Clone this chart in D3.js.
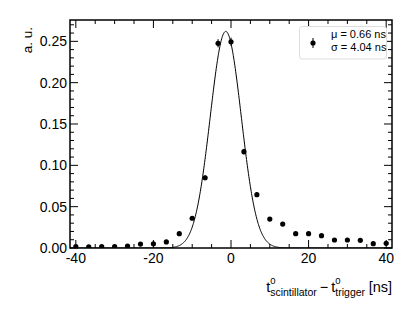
<!DOCTYPE html>
<html>
<head>
<meta charset="utf-8">
<script src="https://cdn.jsdelivr.net/npm/d3@7"></script>
<style>
  html, body { margin: 0; padding: 0; background: #fff; }
  svg { display: block; font-family: "Liberation Sans", Arial, Helvetica, sans-serif; }
</style>
</head>
<body>
<svg id="chart" width="415" height="312"></svg>
<script>
// ---- data ----
const binCenters = [-40, -36.67, -33.33, -30, -26.67, -23.33, -20, -16.67, -13.33, -10, -6.67, -3.33,
                    0, 3.33, 6.67, 10, 13.33, 16.67, 20, 23.33, 26.67, 30, 33.33, 36.67, 40];
const binValues = [0.0016, 0.0015, 0.0017, 0.0018, 0.0024, 0.0047, 0.0050, 0.0073, 0.0173, 0.0360,
                   0.0850, 0.2476, 0.2495, 0.1165, 0.0645, 0.0350, 0.0290, 0.0173, 0.0173, 0.0149,
                   0.0097, 0.0097, 0.0093, 0.0052, 0.0056];
const binErrors = [0.0005, 0.0005, 0.0005, 0.0005, 0.0006, 0.0008, 0.0008, 0.0010, 0.0014, 0.0020,
                   0.0030, 0.0050, 0.0050, 0.0035, 0.0025, 0.0018, 0.0016, 0.0013, 0.0013, 0.0012,
                   0.0010, 0.0010, 0.0010, 0.0007, 0.0008];
// Gaussian fit curve parameters (as drawn)
const fitAmplitude = 0.262;
const fitMean = -1.35;
const fitSigma = 4.0;
const xTickLabels = [-40, -20, 0, 20, 40];
const yTickLabels = [0.00, 0.05, 0.10, 0.15, 0.20, 0.25];
const legendLines = ["\u03bc = 0.66 ns", "\u03c3 = 4.04 ns"];

// ---- layout ----
const svg = d3.select("#chart");
const L = 70, R = 392, T = 20, B = 248;
const x = d3.scaleLinear().domain([-41.5, 41.5]).range([L, R]);
const y = d3.scaleLinear().domain([0, 0.2758]).range([B, T]);

svg.append("defs").append("clipPath").attr("id", "clip")
  .append("rect").attr("x", L).attr("y", T).attr("width", R - L).attr("height", B - T);

// ticks (inside, all four sides)
const xMinor = d3.range(-40, 40.01, 5);
const yMinor = d3.range(0, 0.2751, 0.01);
const tk = svg.append("g").attr("stroke", "#000").attr("stroke-width", 1);
xMinor.forEach(v => {
  const major = xTickLabels.some(m => Math.abs(m - v) < 1e-6);
  const len = major ? 8 : 4;
  tk.append("line").attr("x1", x(v)).attr("x2", x(v)).attr("y1", B).attr("y2", B - len);
  tk.append("line").attr("x1", x(v)).attr("x2", x(v)).attr("y1", T).attr("y2", T + len);
});
yMinor.forEach(v => {
  const major = yTickLabels.some(m => Math.abs(m - v) < 1e-6);
  const len = major ? 8 : 4;
  tk.append("line").attr("y1", y(v)).attr("y2", y(v)).attr("x1", L).attr("x2", L + len);
  tk.append("line").attr("y1", y(v)).attr("y2", y(v)).attr("x1", R).attr("x2", R - len);
});

// tick labels
svg.append("g").selectAll("text").data(xTickLabels).join("text")
  .attr("x", d => x(d)).attr("y", 263).attr("text-anchor", "middle")
  .attr("font-size", 14).text(d => d);
svg.append("g").selectAll("text").data(yTickLabels).join("text")
  .attr("x", 67).attr("y", d => y(d) + 5).attr("text-anchor", "end")
  .attr("font-size", 14).text(d => d3.format(".2f")(d));

// fit curve
const curveXs = d3.range(x.domain()[0], x.domain()[1] + 0.001, 0.1);
const line = d3.line().x(d => x(d)).y(d => y(fitAmplitude * Math.exp(-0.5 * ((d - fitMean) / fitSigma) ** 2)));
svg.append("path").datum(curveXs).attr("d", line).attr("fill", "none")
  .attr("stroke", "#000").attr("stroke-width", 1).attr("clip-path", "url(#clip)");

// data points
const pts = svg.append("g").attr("clip-path", "url(#clip)");
binCenters.forEach((c, i) => {
  pts.append("line").attr("x1", x(c)).attr("x2", x(c))
    .attr("y1", y(binValues[i] - binErrors[i])).attr("y2", y(binValues[i] + binErrors[i]))
    .attr("stroke", "#000").attr("stroke-width", 1);
  pts.append("circle").attr("cx", x(c)).attr("cy", y(binValues[i])).attr("r", 2.6).attr("fill", "#000");
});

// frame
svg.append("rect").attr("x", L).attr("y", T).attr("width", R - L).attr("height", B - T)
  .attr("fill", "none").attr("stroke", "#000").attr("stroke-width", 1.5);

// legend
const lg = svg.append("g");
lg.append("rect").attr("x", 299.5).attr("y", 26.5).attr("width", 87).attr("height", 32.5).attr("rx", 3)
  .attr("fill", "#fff").attr("stroke", "#ddd").attr("stroke-width", 1);
lg.append("line").attr("x1", 313).attr("x2", 313).attr("y1", 38).attr("y2", 48).attr("stroke", "#000").attr("stroke-width", 1);
lg.append("circle").attr("cx", 313).attr("cy", 43).attr("r", 2.6).attr("fill", "#000");
legendLines.forEach((t, i) => {
  lg.append("text").attr("x", 331).attr("y", 38 + i * 13).attr("font-size", 11).text(t);
});

// y axis title
svg.append("text").attr("transform", "translate(32,27) rotate(-90)")
  .attr("text-anchor", "end").attr("font-size", 13.5).text("a. u.");

// x axis title with stacked sup/sub
const xt = svg.append("g");
let cx = 0;
function piece(txt, size, dy) {
  const t = xt.append("text").attr("x", cx).attr("y", dy).attr("font-size", size).text(txt);
  return t.node().getComputedTextLength();
}
function stacked(sup, sub) {
  const w1 = piece(sup, 9.5, -8);
  const w2 = piece(sub, 10.5, 4);
  cx += Math.max(w1, w2);
}
cx += piece("t", 14.5, 0);
stacked("0", "scintillator");
cx += 3;
cx += piece("\u2212", 14.5, 0);
cx += 3;
cx += piece("t", 14.5, 0);
stacked("0", "trigger");
cx += 3.5;
cx += piece("[ns]", 14.5, 0);
xt.attr("transform", `translate(${392 - cx},291.5)`);
</script>
</body>
</html>
